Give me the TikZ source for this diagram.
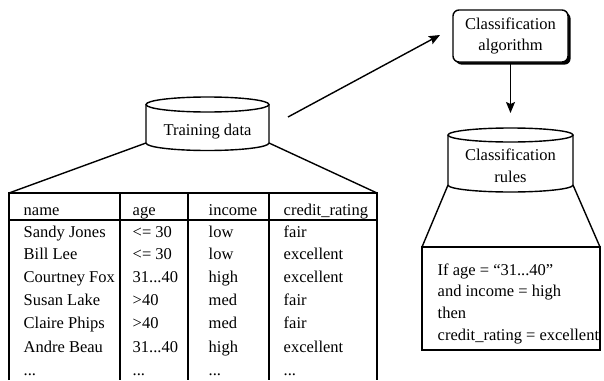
\documentclass[tikz,border=0pt]{standalone}
\usepackage{fontspec}
\setmainfont{Liberation Serif}
\usetikzlibrary{arrows.meta,shadows}
\begin{document}
\begin{tikzpicture}[x=1pt,y=-1pt, line width=1.4pt,
  txt/.style={inner sep=0pt, anchor=base west, font=\fontsize{16.5}{20}\selectfont},
  ctxt/.style={inner sep=0pt, anchor=base, font=\fontsize{16.5}{20}\selectfont},
  arr/.style={-{Stealth[length=11pt,width=9pt,inset=2pt]}},
  algobox/.style={draw, rounded corners=6pt, fill=white, minimum width=115pt,
    minimum height=52pt, align=center, inner sep=0pt,
    font=\fontsize{16.5}{21}\selectfont,
    drop shadow={shadow xshift=2.6pt, shadow yshift=-2.6pt, opacity=1, fill=black}}
]
\useasboundingbox (0,0) rectangle (604,380);

% ---- Training data cylinder
\draw (146,104.5) -- (146,143) arc[start angle=180,end angle=360,x radius=61.5pt,y radius=7.5pt] -- (269,104.5);
\draw (207.5,104.5) ellipse [x radius=61.5pt, y radius=7.5pt];
\node[ctxt] (td) at (207.5,135) {Training data};
\coordinate (tdBL) at (146,143);
\coordinate (tdBR) at (269,143);
\coordinate (tdarr) at (288,117);

% ---- table
\coordinate (tabTL) at (9,193);
\coordinate (tabTR) at (377,193);
\draw (tdBL) -- (tabTL);
\draw (tdBR) -- (tabTR);
\draw (9,380) -- (tabTL) -- (tabTR) -- (377,380);
\draw (9,220) -- (377,220);
\draw (120,193) -- (120,380);
\draw (188,193) -- (188,380);
\draw (269,193) -- (269,380);

\node[txt] (h1) at (23,215) {name};
\node[txt] (h2) at (132,215) {age};
\node[txt] (h3) at (208,215) {income};
\node[txt] (h4) at (283,215) {credit\_rating};

\node[txt] (r1a) at (23,237) {Sandy Jones};
\node[txt] (r1b) at (132,237) {<= 30};
\node[txt] (r1c) at (208,237) {low};
\node[txt] (r1d) at (283,237) {fair};

\node[txt] (r2a) at (23,259.5) {Bill Lee};
\node[txt] (r2b) at (132,259.5) {<= 30};
\node[txt] (r2c) at (208,259.5) {low};
\node[txt] (r2d) at (283,259.5) {excellent};

\node[txt] (r3a) at (23,282.5) {Courtney Fox};
\node[txt] (r3b) at (132,282.5) {31...40};
\node[txt] (r3c) at (208,282.5) {high};
\node[txt] (r3d) at (283,282.5) {excellent};

\node[txt] (r4a) at (23,305) {Susan Lake};
\node[txt] (r4b) at (132,305) {>40};
\node[txt] (r4c) at (208,305) {med};
\node[txt] (r4d) at (283,305) {fair};

\node[txt] (r5a) at (23,328.5) {Claire Phips};
\node[txt] (r5b) at (132,328.5) {>40};
\node[txt] (r5c) at (208,328.5) {med};
\node[txt] (r5d) at (283,328.5) {fair};

\node[txt] (r6a) at (23,352) {Andre Beau};
\node[txt] (r6b) at (132,352) {31...40};
\node[txt] (r6c) at (208,352) {high};
\node[txt] (r6d) at (283,352) {excellent};

\node[txt] (r7a) at (23,375) {...};
\node[txt] (r7b) at (132,375) {...};
\node[txt] (r7c) at (208,375) {...};
\node[txt] (r7d) at (283,375) {...};

% ---- Classification algorithm
\node[algobox] (algo) at (510.5,36) {Classification\\algorithm};
\coordinate (algoin) at (440,35);
\draw[arr] (tdarr) -- (algoin);

% ---- Classification rules cylinder
\draw (448,135) -- (448,185) arc[start angle=180,end angle=360,x radius=62.5pt,y radius=7pt] -- (573,135);
\draw (510.5,135) ellipse [x radius=62.5pt, y radius=7pt];
\node[ctxt] (cr1) at (510.5,160) {Classification};
\node[ctxt] (cr2) at (510.5,182) {rules};
\coordinate (rulestop) at (510.5,128);
\draw[arr, shorten >=15pt] (algo.south) -- (rulestop);

\coordinate (crBL) at (448,185);
\coordinate (crBR) at (573,185);
\coordinate (rbTL) at (422,247);
\coordinate (rbTR) at (600,247);
\draw (crBL) -- (rbTL);
\draw (crBR) -- (rbTR);
\draw (rbTL) rectangle (600,350);

\node[txt] (ru1) at (437,275) {If age = “31...40”};
\node[txt] (ru2) at (437,296.5) {and income = high};
\node[txt] (ru3) at (437,318) {then};
\node[txt] (ru4) at (437,340) {credit\_rating = excellent};
\end{tikzpicture}
\end{document}
